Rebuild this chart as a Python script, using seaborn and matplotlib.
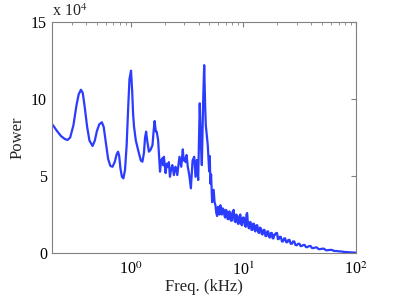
import numpy as np
import pandas as pd
import matplotlib
matplotlib.use("Agg")
import matplotlib.pyplot as plt
import seaborn as sns
from matplotlib.ticker import LogLocator, FixedLocator, NullFormatter

# Frequency (kHz) and power (x 10^4)
freq_low = [0.204, 0.22, 0.24, 0.26, 0.275, 0.29, 0.31, 0.33, 0.345, 0.361,
            0.375, 0.39, 0.41, 0.43, 0.458, 0.48, 0.50, 0.525, 0.554, 0.575,
            0.60, 0.63, 0.66, 0.689, 0.72, 0.75, 0.772, 0.79, 0.81, 0.835,
            0.861, 0.89, 0.92, 0.95, 0.975, 1.006, 1.03, 1.05, 1.07, 1.11,
            1.18, 1.23, 1.27, 1.31, 1.34, 1.37, 1.40, 1.45, 1.50, 1.56,
            1.60, 1.63, 1.67, 1.70, 1.75, 1.79, 1.82]
power_low = [8.3, 7.95, 7.6, 7.4, 7.34, 7.5, 8.3, 9.6, 10.3, 10.6,
             10.4, 9.5, 8.2, 7.3, 6.95, 7.3, 7.9, 8.35, 8.49, 8.2,
             7.2, 6.1, 5.65, 5.6, 5.9, 6.4, 6.58, 6.3, 5.5, 4.95,
             4.85, 5.4, 7.0, 9.5, 11.3, 11.84, 10.5, 9.0, 8.2, 7.3,
             6.5, 6.0, 5.93, 6.5, 7.5, 7.88, 7.3, 6.58, 6.7, 7.0,
             8.0, 8.57, 7.9, 7.88, 7.34, 6.2, 5.28]

freq_mid = [1.86, 1.91, 1.94, 1.97, 2.04, 2.09, 2.14, 2.18, 2.23, 2.28,
            2.34, 2.42, 2.46, 2.50, 2.59, 2.65, 2.71, 2.81, 2.90, 2.95,
            3.01, 3.07, 3.13, 3.21, 3.31, 3.42, 3.54, 3.66, 3.71, 3.76,
            3.86, 3.97, 4.10, 4.20, 4.28, 4.40, 4.49, 4.58, 4.64, 4.75,
            4.83, 4.97, 5.03, 5.10, 5.17, 5.28]
power_mid = [6.0, 6.15, 5.7, 6.25, 5.19, 5.8, 5.6, 5.9, 4.95, 5.4,
             5.71, 5.06, 5.5, 5.6, 5.06, 5.7, 6.25, 5.6, 6.73, 6.0,
             6.15, 5.9, 6.36, 5.6, 5.06, 4.2, 6.0, 6.25, 5.6, 4.95,
             6.04, 4.74, 9.72, 7.0, 5.71, 10.0, 12.2, 9.5, 8.3, 7.5,
             7.0, 5.3, 6.3, 4.5, 5.1, 3.3]

freq_tail = [5.45, 5.55, 5.65, 5.75, 5.85, 5.95, 6.05, 6.15, 6.25, 6.35,
             6.45, 6.55, 6.7, 6.8, 6.9, 7.0, 7.15, 7.25, 7.4, 7.5,
             7.65, 7.75, 7.9, 8.05, 8.2, 8.35, 8.5, 8.65, 8.8, 8.95,
             9.1, 9.25, 9.4, 9.55, 9.7, 9.9, 10.1, 10.3, 10.5, 10.65,
             10.8, 11.0, 11.2, 11.4, 11.6, 11.8, 12.0, 12.2, 12.4, 12.6,
             12.8, 13.05, 13.3, 13.55, 13.8, 14.05, 14.3, 14.55, 14.8, 15.1,
             15.4, 15.7, 16.0, 16.3, 16.6, 16.9, 17.2, 17.55, 17.9, 18.2,
             18.5, 18.85, 19.2, 19.55, 19.9, 20.25, 20.6, 21.0, 21.5, 22.0,
             22.5, 23.0, 23.5, 24.0, 24.6, 25.1, 25.7, 26.3, 27.0, 27.6,
             28.3, 29.0, 29.8, 30.6, 31.5, 32.2, 33.0, 34.0, 35.0, 36.0,
             37.0, 38.2, 39.5, 40.7, 42.0, 43.5, 45.0, 46.5, 48.0, 50.0,
             52.0, 54.0, 56.0, 58.5, 61.0, 64.0, 67.0, 70.0, 74.0, 78.0,
             82.0, 86.0, 90.0, 95.0, 100.0]
power_tail = [4.1, 3.3, 3.1, 2.6, 2.4, 3.0, 2.9, 2.5, 3.1, 2.6,
              2.5, 2.9, 2.8, 2.4, 2.3, 2.8, 2.7, 2.2, 2.2, 2.7,
              2.6, 2.1, 2.1, 2.7, 2.8, 2.1, 2.0, 2.5, 2.4, 1.9,
              1.9, 2.4, 2.5, 1.9, 1.8, 2.3, 2.3, 1.8, 1.7, 2.5,
              2.6, 1.8, 1.6, 2.0, 2.0, 1.5, 1.5, 1.9, 1.9, 1.5,
              1.4, 1.8, 1.8, 1.35, 1.3, 1.65, 1.6, 1.25, 1.2, 1.5,
              1.5, 1.1, 1.1, 1.4, 1.4, 1.05, 1.0, 1.3, 1.3, 0.95,
              0.95, 1.2, 1.2, 1.3, 1.3, 0.9, 0.9, 1.05, 1.05, 0.75,
              0.75, 0.95, 0.95, 0.7, 0.7, 0.85, 0.85, 0.6, 0.6, 0.75,
              0.75, 0.52, 0.5, 0.6, 0.6, 0.45, 0.45, 0.52, 0.52, 0.38,
              0.38, 0.45, 0.45, 0.32, 0.32, 0.36, 0.36, 0.25, 0.25, 0.28,
              0.28, 0.18, 0.18, 0.2, 0.2, 0.13, 0.13, 0.11, 0.1, 0.07,
              0.06, 0.05, 0.04, 0.03, 0.02]

df = pd.DataFrame({
    "freq": freq_low + freq_mid + freq_tail,
    "power": power_low + power_mid + power_tail,
})

sns.set_style("white")
plt.rcParams["font.family"] = ["Liberation Serif", "DejaVu Serif"]
plt.rcParams["mathtext.fontset"] = "stix"

fig = plt.figure(figsize=(3.93, 2.95), dpi=100)
ax = fig.add_axes([52/393, 1 - 253/295, (356 - 52)/393, (253 - 22)/295])

sns.lineplot(data=df, x="freq", y="power", ax=ax, color="#2b3cff",
             linewidth=1.6, estimator=None, sort=False)

ax.set_xscale("log")
ax.set_xlim(0.2, 100)
ax.set_ylim(0, 15)
ax.set_yticks([0, 5, 10, 15])
ax.set_yticklabels(["0", "5", "10", "15"])
ax.xaxis.set_major_locator(FixedLocator([1, 10, 100]))
ax.set_xticklabels(["10$^0$", "10$^1$", "10$^2$"])
ax.xaxis.set_minor_locator(LogLocator(base=10, subs=np.arange(2, 10)))
ax.xaxis.set_minor_formatter(NullFormatter())

for s in ax.spines.values():
    s.set_color("#808080")
    s.set_linewidth(0.8)
ax.tick_params(axis="both", which="both", direction="in", top=True, right=True,
               color="#808080", labelsize=11.5, labelcolor="black")
ax.tick_params(which="major", length=3.5)
ax.tick_params(which="minor", length=2)
ax.tick_params(axis="x", pad=6)

ax.set_xlabel("Freq. (kHz)", fontsize=12, labelpad=0)
ax.set_ylabel("Power", fontsize=12, labelpad=4)
ax.text(0.0, 1.01, "x 10$^4$", transform=ax.transAxes, fontsize=11.5,
        ha="left", va="bottom")

fig.savefig("out.png", dpi=100)
